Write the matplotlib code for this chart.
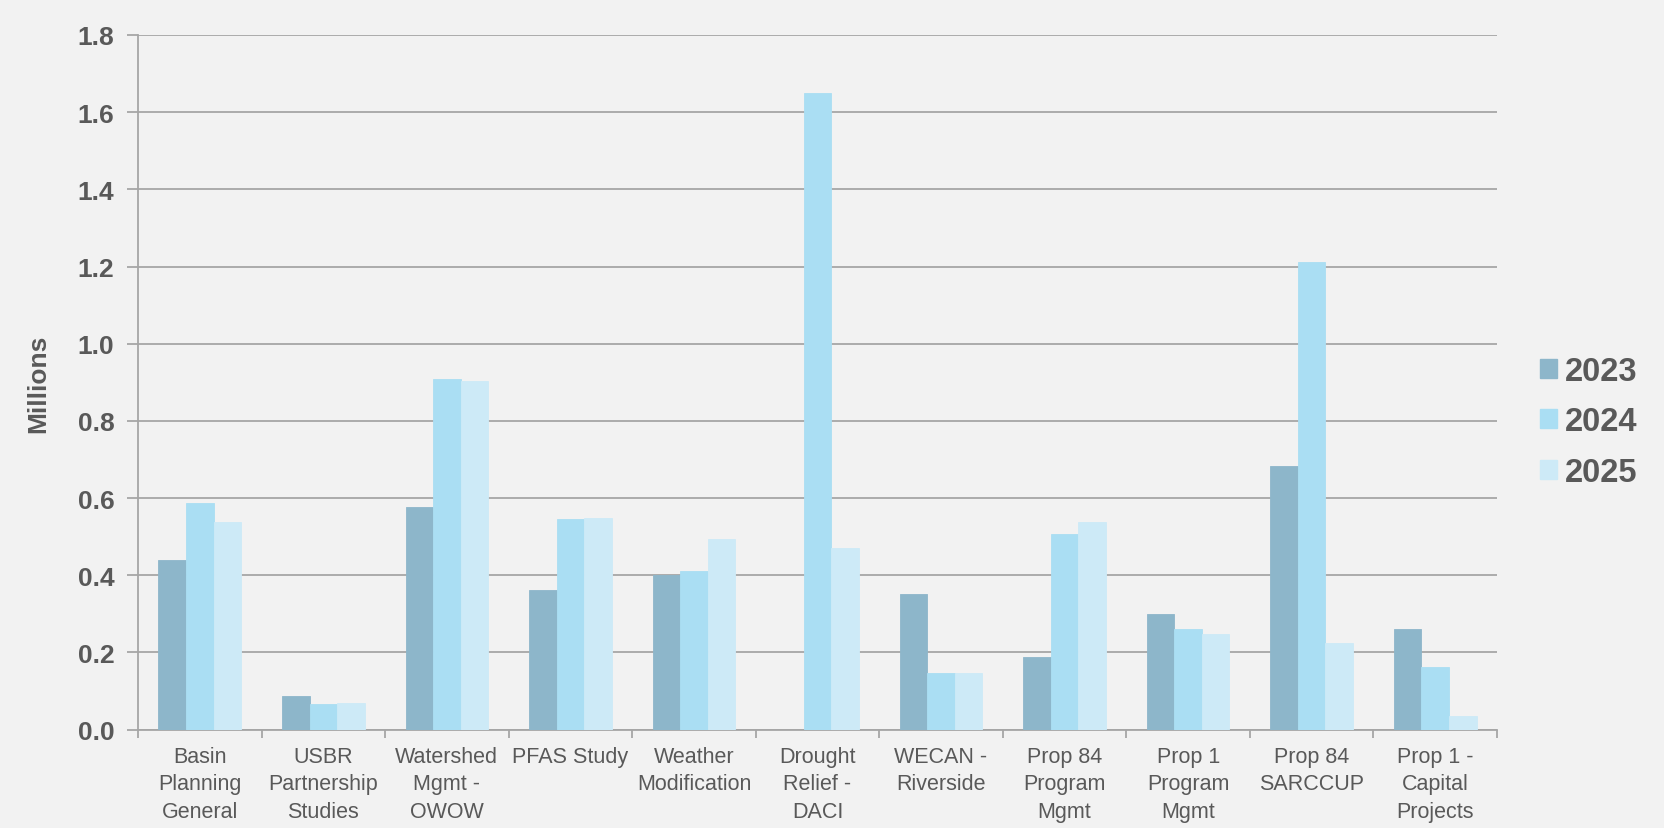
import matplotlib
matplotlib.use("Agg")
import matplotlib.pyplot as plt
import numpy as np
from matplotlib.patches import Patch

# Categories and values (millions)
categories = [
    "Basin\nPlanning\nGeneral",
    "USBR\nPartnership\nStudies",
    "Watershed\nMgmt -\nOWOW",
    "PFAS Study",
    "Weather\nModification",
    "Drought\nRelief -\nDACI",
    "WECAN -\nRiverside",
    "Prop 84\nProgram\nMgmt",
    "Prop 1\nProgram\nMgmt",
    "Prop 84\nSARCCUP",
    "Prop 1 -\nCapital\nProjects",
]
years = ["2023", "2024", "2025"]
v2023 = [0.440, 0.087, 0.577, 0.362, 0.401, 0.0, 0.351, 0.189, 0.300, 0.683, 0.261]
v2024 = [0.587, 0.067, 0.909, 0.547, 0.411, 1.649, 0.147, 0.508, 0.261, 1.211, 0.162]
v2025 = [0.538, 0.069, 0.904, 0.549, 0.494, 0.471, 0.148, 0.538, 0.248, 0.225, 0.036]

colors = ["#8DB6CA", "#AADEF3", "#CDEAF7"]
bg = "#F2F2F2"
text_col = "#595959"
grid_col = "#A6A6A6"

plt.rcParams["font.family"] = ["Liberation Sans", "DejaVu Sans"]

fig = plt.figure(figsize=(16.65, 8.29), dpi=100, facecolor=bg)
ax = fig.add_axes([0.0829, 0.1186, 0.8162, 0.838])
ax.set_facecolor(bg)

x = np.arange(len(categories))
w = 0.223
for i, (vals, c) in enumerate(zip([v2023, v2024, v2025], colors)):
    ax.bar(x + (i - 1) * w, vals, width=w, color=c, edgecolor=c,
           linewidth=0.6, zorder=3)

ax.set_xlim(-0.5, len(categories) - 0.5)
ax.set_ylim(0, 1.8)
yt = np.arange(0, 1.81, 0.2)
ax.set_yticks(yt)
ax.set_yticklabels([f"{t:.1f}" for t in yt],
                   fontsize=19, fontweight="bold", color=text_col)
ax.grid(axis="y", color=grid_col, linewidth=1.3, zorder=0)

# category labels centered, tick marks at boundaries
ax.set_xticks(x)
ax.set_xticklabels(categories, fontsize=15.5, color=text_col, linespacing=1.38)
ax.tick_params(axis="x", length=0, pad=12)
ax.set_xticks(np.arange(-0.5, len(categories)), minor=True)
ax.tick_params(axis="x", which="minor", length=6, width=1.3, color=grid_col)
ax.tick_params(axis="y", length=8, width=1.3, color=grid_col, pad=9)

for s in ["top", "right"]:
    ax.spines[s].set_visible(False)
for s in ["left", "bottom"]:
    ax.spines[s].set_color(grid_col)
    ax.spines[s].set_linewidth(1.3)

ax.set_ylabel("Millions", fontsize=19, fontweight="bold", color=text_col,
              labelpad=20)

handles = [Patch(facecolor=c, edgecolor=c) for c in colors]
leg = fig.legend(handles, years, loc="center left",
                 bbox_to_anchor=(0.925, 0.49), frameon=False,
                 borderaxespad=0, borderpad=0,
                 prop={"size": 23.5, "weight": "bold"},
                 handlelength=0.52, handleheight=0.52, handletextpad=0.25,
                 labelspacing=0.6)
for t in leg.get_texts():
    t.set_color(text_col)

fig.savefig("out.png", dpi=100, facecolor=bg)
